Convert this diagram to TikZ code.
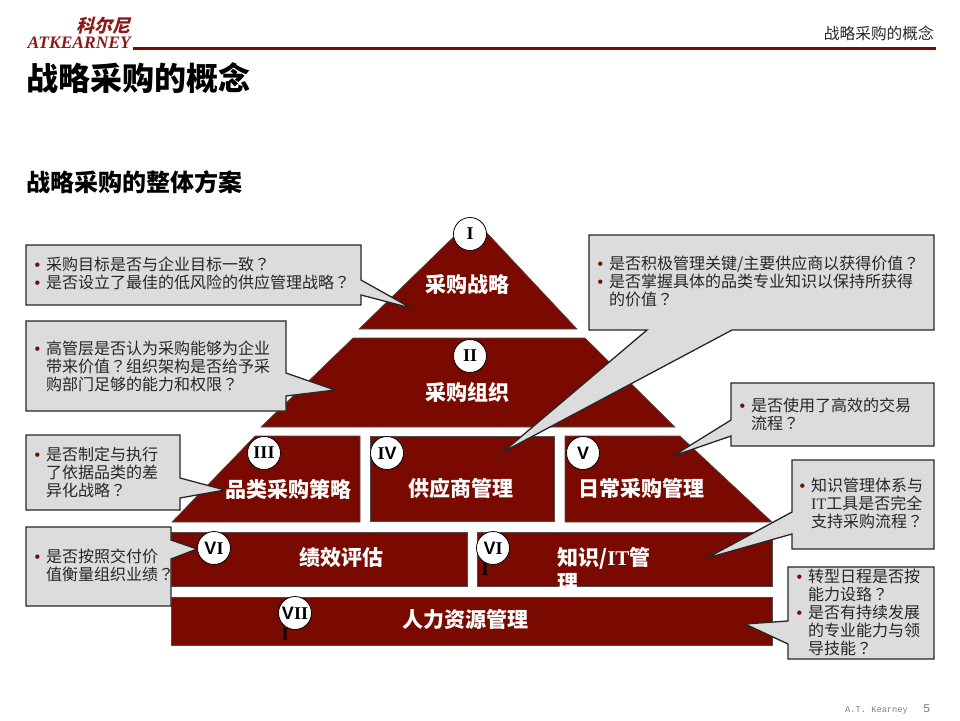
\documentclass[tikz,border=0pt]{standalone}
\usepackage{fontspec}
\usepackage{tikz}
\usetikzlibrary{positioning}

\setmainfont{Noto Sans CJK SC}
\newfontfamily\cjkquest{Noto Sans CJK TC}
\newfontfamily\numfont{Liberation Serif}
\newfontfamily\numsans{Liberation Sans}
\newfontfamily\monofont{Liberation Mono}
\newfontfamily\logocjk[FakeSlant=0.25]{Noto Sans CJK SC}

\definecolor{blockred}{HTML}{7A0A00}
\definecolor{calloutgray}{HTML}{DCDCDC}
\definecolor{logored}{HTML}{8A1A1A}
\definecolor{pagegray}{HTML}{808080}

\newcommand{\fsize}[1]{\fontsize{#1}{#1}\selectfont}
\newcommand{\qm}{{\cjkquest ？}}
\newcommand{\bul}{\llap{\textcolor{blockred}{\numsans •}\hspace{6pt}}}

\tikzset{
  blockshape/.style={draw=black!70, line width=0.6pt, fill=blockred},
  blocktext/.style={text=white, font=\bfseries\fsize{21}, inner sep=0pt},
  calloutshape/.style={draw=black!85, line width=1.3pt, line join=miter, fill=calloutgray},
  callouttext/.style={anchor=west, align=left, inner sep=0pt, text=black!85,
    font=\fontsize{16}{18}\selectfont},
  numcircle/.style={circle, draw=black, line width=0.8pt, fill=white, minimum size=33pt,
    inner sep=0pt, font=\numfont\bfseries\fsize{18}},
  strayletter/.style={inner sep=0pt, font=\numfont\bfseries\fsize{18}}
}

\begin{document}
\begin{tikzpicture}[x=1pt, y=-1pt]
    \useasboundingbox (0,0) rectangle (960,720);

    % Header
    \node[anchor=east, inner sep=0pt, text=logored, font=\logocjk\bfseries\fsize{18}] (logocn) at (131,26) {科尔尼};
    \node[anchor=east, inner sep=0pt, text=logored, font=\numfont\bfseries\itshape\fsize{17.5}] (logoen) at (131,43) {ATKEARNEY};
    \fill[blockred] (133,46.5) rectangle (936,49.5);
    \node[anchor=east, inner sep=0pt, text=black!85, font=\fsize{15.7}] (header) at (934,33) {战略采购的概念};

    % Titles
    \node[anchor=west, inner sep=0pt, font=\bfseries\fsize{32}] (title) at (26.5,78) {战略采购的概念};
    \node[anchor=west, inner sep=0pt, font=\bfseries\fsize{24}] (subtitle) at (26.5,182) {战略采购的整体方案};

    % Pyramid blocks
    \draw[blockshape] (359,329) -- (473,218) -- (577,329) -- cycle;
    \draw[blockshape] (353,338) -- (585,338) -- (675,427) -- (261,427) -- cycle;
    \draw[blockshape] (255,436) -- (360,436) -- (360,522) -- (172,522) -- cycle;
    \draw[blockshape] (370,436) rectangle (554,521);
    \draw[blockshape] (565,436) -- (680,436) -- (772,522) -- (565,522) -- cycle;
    \draw[blockshape] (171,532) rectangle (467,586);
    \draw[blockshape] (477,532) rectangle (772,586);
    \draw[blockshape] (171,597) rectangle (772,645);

    % Block labels
    \node[blocktext] (strategy) at (467,285) {采购战略};
    \node[blocktext] (organization) at (467,392) {采购组织};
    \node[blocktext] (category) at (288,489) {品类采购策略};
    \node[blocktext] (supplier) at (461,488) {供应商管理};
    \node[blocktext] (daily) at (641,488) {日常采购管理};
    \node[blocktext] (performance) at (341,558) {绩效评估};
    \node[blocktext, anchor=west] (knowledge) at (557,558) {知识/{\numfont IT}管};
    \node[blocktext, anchor=west] (knowledgeb) at (557,583) {理};
    \node[blocktext] (people) at (465,619) {人力资源管理};

    % Callouts
    \draw[calloutshape] (26,245) -- (361,245) -- (361,280) -- (411,308) -- (361,295) -- (361,305) -- (26,305) -- cycle;
    \draw[calloutshape] (26,321) -- (286,321) -- (286,373) -- (335,390) -- (286,396) -- (286,411) -- (26,411) -- cycle;
    \draw[calloutshape] (26,435) -- (180,435) -- (180,478) -- (225,490) -- (180,498) -- (180,510) -- (26,510) -- cycle;
    \draw[calloutshape] (26,527) -- (171,527) -- (171,540) -- (197,549) -- (171,559) -- (171,606) -- (26,606) -- cycle;
    \draw[calloutshape] (589,235) -- (934,235) -- (934,330) -- (732,330) -- (503,452) -- (647,330) -- (589,330) -- cycle;
    \draw[calloutshape] (731,383) -- (934,383) -- (934,446) -- (731,446) -- (731,436) -- (673,456) -- (731,420) -- cycle;
    \draw[calloutshape] (792,460) -- (934,460) -- (934,549) -- (792,549) -- (792,534) -- (707,558) -- (792,512) -- cycle;
    \draw[calloutshape] (788,567) -- (934,567) -- (934,659) -- (788,659) -- (788,644) -- (745,624) -- (788,621) -- cycle;

    % Callout texts
    \node[callouttext] (q1) at (46,273) {\bul 采购目标是否与企业目标一致\qm\\\bul 是否设立了最佳的低风险的供应管理战略\qm};
    \node[callouttext] (q2) at (46,366) {\bul 高管层是否认为采购能够为企业\\带来价值\qm 组织架构是否给予采\\购部门足够的能力和权限\qm};
    \node[callouttext] (q3) at (46,472) {\bul 是否制定与执行\\了依据品类的差\\异化战略\qm};
    \node[callouttext] (q4) at (46,565) {\bul 是否按照交付价\\值衡量组织业绩\qm};
    \node[callouttext] (q5) at (609,281) {\bul 是否积极管理关键/主要供应商以获得价值\qm\\\bul 是否掌握具体的品类专业知识以保持所获得\\的价值\qm};
    \node[callouttext] (q6) at (751,414) {\bul 是否使用了高效的交易\\流程\qm};
    \node[callouttext] (q7) at (811,503) {\bul 知识管理体系与\\{\numfont IT}工具是否完全\\支持采购流程\qm};
    \node[callouttext] (q8) at (808,612) {\bul 转型日程是否按\\能力设臵\qm\\\bul 是否有持续发展\\的专业能力与领\\导技能\qm};

    % Numbered circles
    \node[numcircle] (n1) at (470,234) {I};
    \node[numcircle] (n2) at (470,356) {II};
    \node[numcircle] (n3) at (264,453) {III};
    \node[numcircle] (n4) at (387,453) {I{\numsans V}};
    \node[numcircle] (n5) at (583,453) {{\numsans V}};
    \node[numcircle] (n6) at (214,548) {{\numsans V}I};
    \node[numcircle] (n7) at (493,548) {{\numsans V}I};
    \node[numcircle] (n8) at (295,613) {{\numsans V}II};
    \node[strayletter] (stray1) at (485,570) {I};
    \node[strayletter] (stray2) at (285,635) {I};

    % Footer
    \node[anchor=west, inner sep=0pt, text=pagegray, font=\monofont\fsize{8.7}] (footer) at (845,711) {A.T. Kearney};
    \node[anchor=west, inner sep=0pt, text=pagegray, font=\monofont\fsize{12}] (pagenum) at (923,709) {5};
\end{tikzpicture}
\end{document}
